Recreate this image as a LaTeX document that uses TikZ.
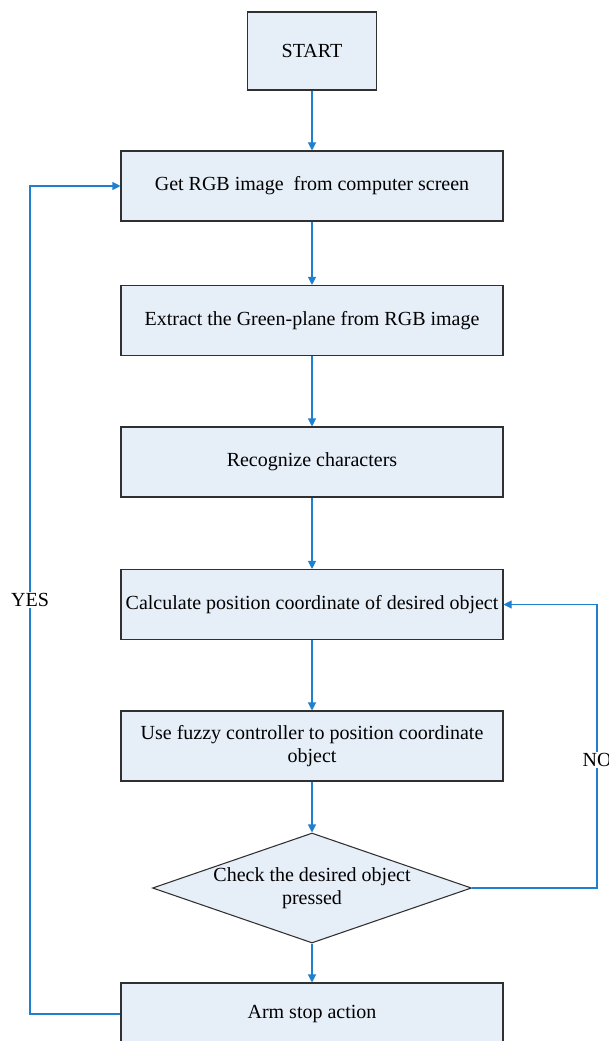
\documentclass[tikz,border=0pt]{standalone}
\usepackage{fontspec}
\setmainfont{Liberation Serif}
\usetikzlibrary{arrows.meta,shapes.geometric}
\definecolor{boxfill}{HTML}{E6EEF8}
\definecolor{flowline}{HTML}{2080D0}
\definecolor{boxline}{HTML}{303030}
\begin{document}
\begin{tikzpicture}[x=0.75pt,y=-0.75pt,
  every node/.style={font=\fontsize{15}{17}\selectfont},
  stepbox/.style={draw=boxline,fill=boxfill,line width=0.8pt,minimum width=382*0.75pt,minimum height=70*0.75pt,align=center,inner sep=0pt},
  decision/.style={diamond,draw=boxline,fill=boxfill,line width=0.8pt,aspect=2.9,minimum width=319*0.75pt,minimum height=110*0.75pt,align=center,inner sep=0pt},
  flow/.style={draw=flowline,line width=0.8pt,-{Triangle[length=6pt,width=6pt]}},
  looplabel/.style={fill=white,inner sep=1pt}]
\useasboundingbox (0,0) rectangle (609,1041);
\clip (0,0) rectangle (609,1041);
% process boxes, top to bottom
\node[stepbox,minimum width=129*0.75pt,minimum height=78*0.75pt] (start) at (312,51) {START};
\node[stepbox] (get) at (312,186) {Get RGB image\ \ from computer screen};
\node[stepbox] (extract) at (312,320.5) {Extract the Green-plane from RGB image};
\node[stepbox] (recog) at (312,462) {Recognize characters};
\node[stepbox] (calc) at (312,604.5) {Calculate position coordinate of desired object};
\node[stepbox] (fuzzy) at (312,746) {Use fuzzy controller to position coordinate\\[0.5pt]object};
\node[decision] (check) at (312,888) {Check the desired object\\[0.5pt]pressed};
\node[stepbox,minimum height=62*0.75pt] (arm) at (312,1014) {Arm stop action};
% corners of the two feedback loops
\coordinate (yl1) at (30,1014);
\coordinate (yl2) at (30,186);
\coordinate (nl1) at (597,888);
\coordinate (nl2) at (597,604.5);
% main flow
\draw[flow] (start) -- (get);
\draw[flow] (get) -- (extract);
\draw[flow] (extract) -- (recog);
\draw[flow] (recog) -- (calc);
\draw[flow] (calc) -- (fuzzy);
\draw[flow] (fuzzy) -- (check);
\draw[flow] (check) -- (arm);
% feedback loops
\draw[flow] (arm.west) -- (yl1) -- node[looplabel,pos=0.5] (yes) {YES} (yl2) -- (get.west);
\draw[flow] (check.east) -- (nl1) -- node[looplabel,pos=0.45] (no) {NO} (nl2) -- (calc.east);
\end{tikzpicture}
\end{document}
